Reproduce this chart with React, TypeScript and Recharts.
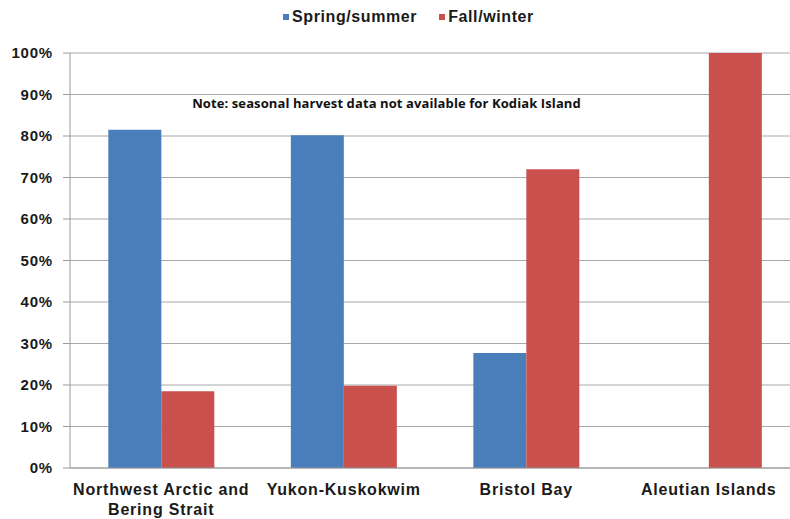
import React from "react"
import { BarChart, Bar, XAxis, YAxis, CartesianGrid, Text } from "recharts"

const regions = ["Northwest Arctic and Bering Strait", "Yukon-Kuskokwim", "Bristol Bay", "Aleutian Islands"]
const springSummer = [81.5, 80.2, 27.7, 0]
const fallWinter = [18.5, 19.8, 72, 100]
const yTicks = [0, 10, 20, 30, 40, 50, 60, 70, 80, 90, 100]

const BLUE = "#4a7ebb"
const RED = "#c9504c"
const FONT = "'Liberation Sans', Arial, sans-serif"

const data = regions.map((region, i) => ({
  region,
  spring: springSummer[i],
  fall: fallWinter[i],
}))

function RegionTick(props: any) {
  const { x, y, payload } = props
  return (
    <Text
      x={x}
      y={y + 8}
      width={185}
      textAnchor="middle"
      verticalAnchor="start"
      lineHeight="1.25em"
      fontFamily={FONT}
      fontWeight="bold"
      fontSize={16}
      letterSpacing={0.8}
      fill="#1a1a1a"
    >
      {payload.value}
    </Text>
  )
}

function SeasonLegend() {
  const items = [
    { label: "Spring/summer", color: BLUE },
    { label: "Fall/winter", color: RED },
  ]
  return (
    <div
      style={{
        position: "absolute",
        top: 7,
        left: 283,
        display: "flex",
        fontFamily: FONT,
        fontWeight: "bold",
        fontSize: 16,
        letterSpacing: 0.6,
        color: "#1a1a1a",
        lineHeight: "20px",
      }}
    >
      {items.map((it) => (
        <div key={it.label} style={{ display: "flex", alignItems: "center", marginRight: 22 }}>
          <span style={{ width: 6, height: 6, background: it.color, display: "inline-block", marginRight: 3 }} />
          <span>{it.label}</span>
        </div>
      ))}
    </div>
  )
}

export default function App() {
  return (
    <div style={{ position: "absolute", left: 0, top: 0, width: 790, height: 519, overflow: "hidden", background: "#fff" }}>
      <BarChart
        width={800}
        height={519}
        data={data}
        margin={{ top: 53, right: 0, bottom: 21, left: 0 }}
        barCategoryGap="21%"
        barGap={0}
      >
        <CartesianGrid vertical={false} stroke="#a8a8a8" />
        <XAxis
          dataKey="region"
          interval={0}
          height={30}
          tick={<RegionTick />}
          tickLine={false}
          axisLine={{ stroke: "#999" }}
        />
        <YAxis
          width={70}
          domain={[0, 100]}
          ticks={yTicks}
          tickFormatter={(v: number) => `${v}%`}
          tick={{ fontFamily: FONT, fontWeight: "bold", fontSize: 15, letterSpacing: 0.8, fill: "#1a1a1a" }}
          tickLine={{ stroke: "#999" }}
          tickSize={7}
          tickMargin={10}
          axisLine={{ stroke: "#999" }}
        />
        <Bar dataKey="spring" name="Spring/summer" fill={BLUE} isAnimationActive={false} />
        <Bar dataKey="fall" name="Fall/winter" fill={RED} isAnimationActive={false} />
      </BarChart>
      <SeasonLegend />
      <div
        style={{
          position: "absolute",
          left: 0,
          width: 773,
          top: 94,
          textAlign: "center",
          fontFamily: "'Open Sans', sans-serif",
          fontWeight: "bold",
          fontSize: 13,
          letterSpacing: 0.1,
          color: "#111",
        }}
      >
        Note: seasonal harvest data not available for Kodiak Island
      </div>
    </div>
  )
}
